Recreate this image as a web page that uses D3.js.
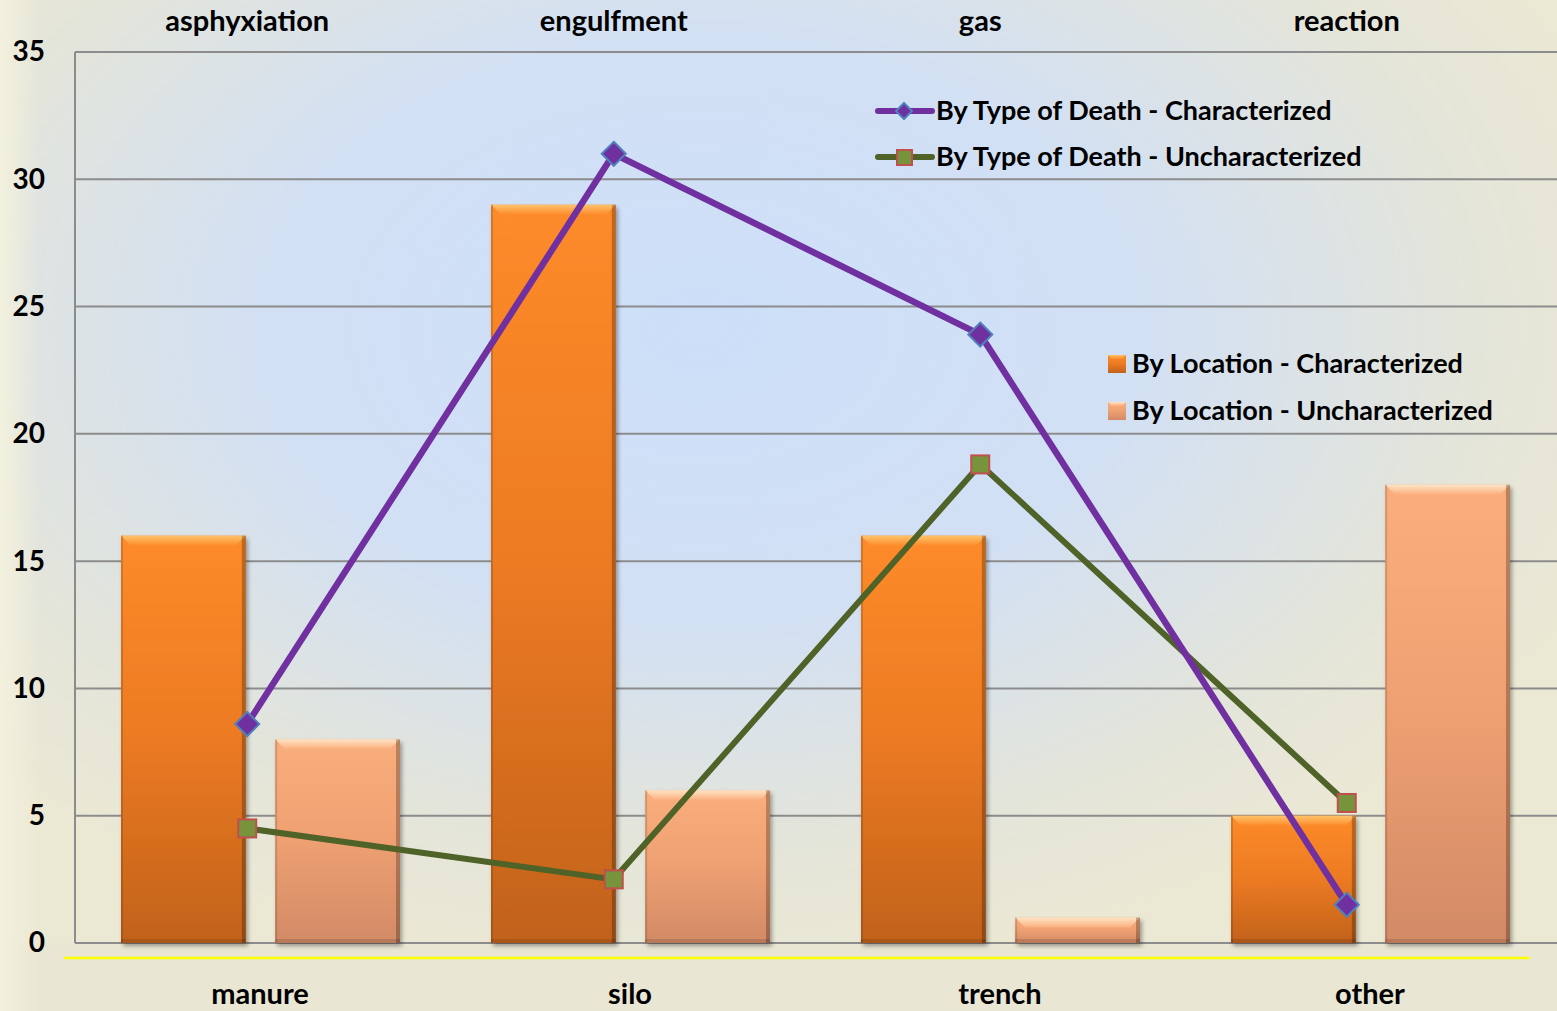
<!DOCTYPE html>
<html lang="en">
<head>
<meta charset="UTF-8">
<title>Deaths by Location and Type</title>
<script src="https://d3js.org/d3.v7.min.js"></script>
<style>
    body { margin: 0; background: #e9e6d4; }
    svg { display: block; font-family: Lato, "Open Sans", sans-serif; font-weight: bold; }
</style>
</head>
<body>
<svg id="chart" width="1557" height="1011"></svg>
<script>
// data
const locations = ["manure", "silo", "trench", "other"];
const deathTypes = ["asphyxiation", "engulfment", "gas", "reaction"];
const locChar = [16, 29, 16, 5];
const locUnchar = [8, 6, 1, 18];
const typeChar = [8.6, 31, 23.9, 1.5];
const typeUnchar = [4.5, 2.5, 18.8, 5.5];
const yTicks = [0, 5, 10, 15, 20, 25, 30, 35];

const barSeries = ["By Location - Characterized", "By Location - Uncharacterized"];
const lineSeries = ["By Type of Death - Characterized", "By Type of Death - Uncharacterized"];

const svg = d3.select("#chart");
const W = 1557, H = 1011;
const plot = { left: 75, top: 52, right: 1557, bottom: 943 };

// gradients
const defs = svg.append("defs");
const bg = defs.append("radialGradient").attr("id", "bg")
    .attr("cx", "0.45").attr("cy", "0.35").attr("r", "0.62")
    .attr("gradientTransform", "translate(0.45,0.35) scale(1,1.1) translate(-0.45,-0.35)");
bg.append("stop").attr("offset", "0").attr("stop-color", "#cddff9");
bg.append("stop").attr("offset", "0.45").attr("stop-color", "#d2e0f4");
bg.append("stop").attr("offset", "0.8").attr("stop-color", "#e4e5da");
bg.append("stop").attr("offset", "1").attr("stop-color", "#ebe8d4");

const strip = defs.append("linearGradient").attr("id", "strip");
strip.append("stop").attr("offset", 0).attr("stop-color", "#f3f1de").attr("stop-opacity", 1);
strip.append("stop").attr("offset", 1).attr("stop-color", "#f3f1de").attr("stop-opacity", 0);

function vGrad(id, stops) {
    const g = defs.append("linearGradient").attr("id", id)
        .attr("x1", 0).attr("y1", 0).attr("x2", 0).attr("y2", 1);
    stops.forEach(s => g.append("stop").attr("offset", s[0]).attr("stop-color", s[1]));
}
vGrad("gChar", [[0, "#fd8b2a"], [0.5, "#ec7a22"], [1, "#c1621c"]]);
vGrad("gUnchar", [[0, "#fbae7c"], [0.5, "#eea072"], [1, "#d28a66"]]);
vGrad("hChar", [[0, "#fec36c"], [1, "#fd8b2a"]]);
vGrad("hUnchar", [[0, "#fee4c6"], [1, "#fbae7c"]]);

const sh = defs.append("filter").attr("id", "shadow")
    .attr("x", "-10%").attr("y", "-10%").attr("width", "130%").attr("height", "130%");
sh.append("feDropShadow").attr("dx", 2).attr("dy", 3).attr("stdDeviation", 2)
    .attr("flood-color", "#000").attr("flood-opacity", 0.35);

svg.append("rect").attr("width", W).attr("height", H).attr("fill", "#e9e6d4");
svg.append("rect").attr("x", 0).attr("y", 0).attr("width", W).attr("height", plot.bottom)
    .attr("fill", "url(#bg)");
svg.append("rect").attr("width", 40).attr("height", H).attr("fill", "url(#strip)");

// scales
const y = d3.scaleLinear().domain([0, 35]).range([plot.bottom, plot.top]);
const x0 = d3.scaleBand().domain(locations).range([75, 1555]);
const x1 = d3.scaleBand().domain(barSeries).range([46, 325]).paddingInner(0.19);
const xTop = d3.scaleBand().domain(deathTypes).range([64, 1530]);

// gridlines
svg.append("g").selectAll("line").data(yTicks.slice(1)).join("line")
    .attr("x1", plot.left).attr("x2", plot.right)
    .attr("y1", d => y(d)).attr("y2", d => y(d))
    .attr("stroke", "#8c8c8c").attr("stroke-width", 2);
svg.append("line").attr("x1", plot.left).attr("x2", plot.right)
    .attr("y1", y(0)).attr("y2", y(0)).attr("stroke", "#8c8c8c").attr("stroke-width", 2);
svg.append("line").attr("x1", plot.left).attr("x2", plot.left)
    .attr("y1", plot.top).attr("y2", plot.bottom).attr("stroke", "#8c8c8c").attr("stroke-width", 2);

// y axis labels
const yAxis = svg.append("g").attr("transform", "translate(45,0)")
    .call(d3.axisLeft(y).tickValues(yTicks).tickSize(0).tickPadding(0));
yAxis.select(".domain").remove();
yAxis.selectAll("text").attr("font-size", 28);

// yellow line
svg.append("line").attr("x1", 64).attr("x2", 1530).attr("y1", 958).attr("y2", 958)
    .attr("stroke", "#ffff00").attr("stroke-width", 2.5);

// bottom / top category labels
const xb = svg.append("g").attr("transform", "translate(0,1004)")
    .call(d3.axisBottom(x0).tickSize(0).tickPadding(0));
xb.select(".domain").remove();
xb.selectAll("text").attr("dy", 0).attr("font-size", 29);
const xt = svg.append("g").attr("transform", "translate(0,31)")
    .call(d3.axisTop(xTop).tickSize(0).tickPadding(0));
xt.select(".domain").remove();
xt.selectAll("text").attr("dy", 0).attr("font-size", 29);
svg.selectAll(".tick text").attr("font-family", "Lato, sans-serif")
    .attr("font-weight", "bold").attr("fill", "#000");

// bars
const barData = [];
locations.forEach((loc, i) => {
    barData.push({ loc, s: barSeries[0], v: locChar[i], k: "Char" });
    barData.push({ loc, s: barSeries[1], v: locUnchar[i], k: "Unchar" });
});
const bars = svg.append("g").selectAll("g").data(barData).join("g")
    .attr("transform", d => `translate(${x0(d.loc) + x1(d.s)},${y(d.v)})`);
const bw = x1.bandwidth();
bars.append("rect").attr("width", bw).attr("height", d => y(0) - y(d.v))
    .attr("fill", d => `url(#g${d.k})`).attr("filter", "url(#shadow)");
bars.append("path")
    .attr("d", d => { const b = Math.min(10, (y(0) - y(d.v)) / 2.5);
        return `M0,0H${bw}L${bw - b},${b}H${b}Z`; })
    .attr("fill", d => `url(#h${d.k})`);
bars.append("rect").attr("x", bw - 4).attr("y", 0).attr("width", 4)
    .attr("height", d => y(0) - y(d.v)).attr("fill", "#000").attr("opacity", 0.25);
bars.append("rect").attr("x", 0).attr("y", 0).attr("width", 2)
    .attr("height", d => y(0) - y(d.v)).attr("fill", "#000").attr("opacity", 0.14);
bars.append("rect").attr("x", 0).attr("y", d => y(0) - y(d.v) - 4).attr("width", bw).attr("height", 4)
    .attr("fill", "#000").attr("opacity", 0.12);

// lines
const xc = d => xTop(d) + xTop.bandwidth() / 2;
const lineGen = d3.line().x(d => xc(d.t)).y(d => y(d.v));
const charPts = deathTypes.map((t, i) => ({ t, v: typeChar[i] }));
const uncharPts = deathTypes.map((t, i) => ({ t, v: typeUnchar[i] }));

svg.append("path").datum(uncharPts).attr("d", lineGen).attr("fill", "none")
    .attr("stroke", "#4f6228").attr("stroke-width", 6).attr("stroke-linejoin", "round");
svg.append("g").selectAll("rect").data(uncharPts).join("rect")
    .attr("x", d => xc(d.t) - 9).attr("y", d => y(d.v) - 9).attr("width", 18).attr("height", 18)
    .attr("fill", "#77933c").attr("stroke", "#c0504d").attr("stroke-width", 2);

svg.append("path").datum(charPts).attr("d", lineGen).attr("fill", "none")
    .attr("stroke", "#7030a0").attr("stroke-width", 6.5).attr("stroke-linejoin", "round");
const diamond = "M0,-12L12,0L0,12L-12,0Z";
svg.append("g").selectAll("path").data(charPts).join("path")
    .attr("transform", d => `translate(${xc(d.t)},${y(d.v)})`).attr("d", diamond)
    .attr("fill", "#7030a0").attr("stroke", "#4f81bd").attr("stroke-width", 2);

// legends
const lg = svg.append("g");
[0, 1].forEach(i => {
    const ly = 111 + i * 46;
    const g = lg.append("g").attr("transform", `translate(876,${ly})`);
    g.append("line").attr("x1", 2).attr("x2", 56).attr("stroke-linecap", "round")
        .attr("stroke", i ? "#4f6228" : "#7030a0").attr("stroke-width", 6);
    if (i === 0) {
        g.append("path").attr("d", "M0,-8L8,0L0,8L-8,0Z").attr("transform", "translate(28,0)")
            .attr("fill", "#7030a0").attr("stroke", "#4f81bd").attr("stroke-width", 2);
    } else {
        g.append("rect").attr("x", 21).attr("y", -7).attr("width", 15).attr("height", 15)
            .attr("fill", "#77933c").attr("stroke", "#c0504d").attr("stroke-width", 2);
    }
    g.append("text").attr("x", 60).attr("dy", "0.35em").attr("font-size", 27)
        .attr("fill", "#000").text(lineSeries[i]);
});
[0, 1].forEach(i => {
    const ly = 364 + i * 47;
    const k = i ? "Unchar" : "Char";
    const g = lg.append("g").attr("transform", `translate(1108,${ly})`);
    g.append("rect").attr("x", 0).attr("y", -9).attr("width", 18).attr("height", 18)
        .attr("fill", `url(#g${k})`);
    g.append("path").attr("d", "M0,-9H18L14,-5H4Z").attr("fill", `url(#h${k})`);
    g.append("text").attr("x", 24).attr("dy", "0.35em").attr("font-size", 27)
        .attr("fill", "#000").text(barSeries[i]);
});
</script>
</body>
</html>
